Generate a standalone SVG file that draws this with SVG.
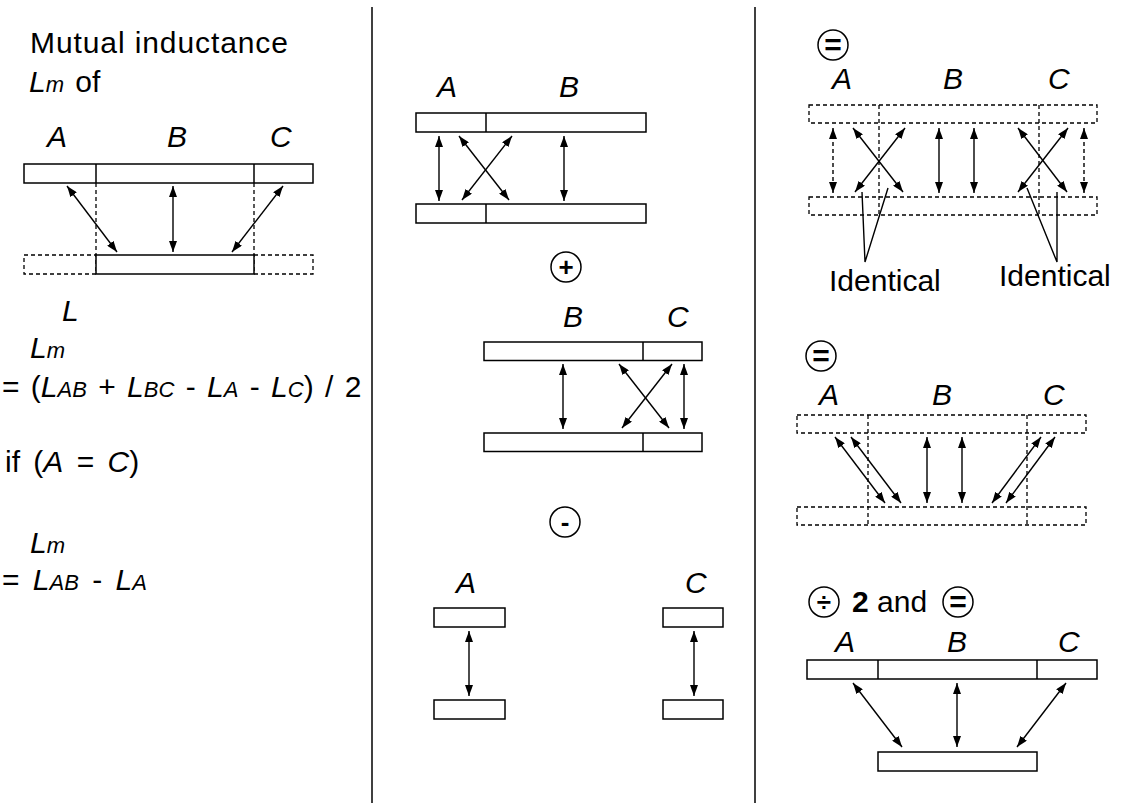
<svg xmlns="http://www.w3.org/2000/svg" width="1125" height="803" viewBox="0 0 1125 803">
<style>
  text { font-family: "Liberation Sans", Arial, sans-serif; font-size: 30px; fill: #000; }
  .it { font-style: italic; }
  .sub { font-size: 22px; font-style: italic; }
  .bar { fill: #fff; stroke: #000; stroke-width: 1.5; }
  .dbar { fill: none; stroke: #000; stroke-width: 1.3; stroke-dasharray: 4 3; }
  .div { stroke: #000; stroke-width: 1.5; }
  .ddiv { stroke: #000; stroke-width: 1.3; stroke-dasharray: 4 3; }
  .arr { stroke: #000; stroke-width: 1.4; fill: none; marker-start: url(#ah); marker-end: url(#ah); }
  .darr { stroke: #000; stroke-width: 1.4; fill: none; stroke-dasharray: 4 3; marker-start: url(#ah); marker-end: url(#ah); }
  .lead { stroke: #000; stroke-width: 1.4; fill: none; }
  .sep { stroke: #000; stroke-width: 1.5; }
  .op { fill: #fff; stroke: #000; stroke-width: 1.5; }
  .opt { font-weight: bold; font-size: 26px; text-anchor: middle; }
  .opeq { font-weight: bold; font-size: 30px; text-anchor: middle; }
</style>
<defs>
  <marker id="ah" markerWidth="11" markerHeight="8" refX="11" refY="4" orient="auto-start-reverse" markerUnits="userSpaceOnUse">
    <path d="M0,0 L11,4 L0,8 z" fill="#000"/>
  </marker>
</defs>

<g id="separators">
  <line class="sep" x1="372" y1="7" x2="372" y2="803"/>
  <line class="sep" x1="755" y1="7" x2="755" y2="803"/>
</g>

<!-- Left panel -->
<g id="left-text">
  <text x="30" y="53" letter-spacing="0.9">Mutual inductance</text>
  <text x="29" y="92" word-spacing="3"><tspan class="it">L</tspan><tspan class="sub">m</tspan> of</text>
  <text x="62" y="321" class="it">L</text>
  <text x="30" y="358"><tspan class="it">L</tspan><tspan class="sub">m</tspan></text>
  <text x="2" y="397" word-spacing="3">= (<tspan class="it">L</tspan><tspan class="sub">AB</tspan> + <tspan class="it">L</tspan><tspan class="sub">BC</tspan> - <tspan class="it">L</tspan><tspan class="sub">A</tspan> - <tspan class="it">L</tspan><tspan class="sub">C</tspan>) / 2</text>
  <text x="5" y="472" word-spacing="5">if (<tspan class="it">A</tspan> = <tspan class="it">C</tspan>)</text>
  <text x="30" y="553"><tspan class="it">L</tspan><tspan class="sub">m</tspan></text>
  <text x="2" y="590" word-spacing="5">= <tspan class="it">L</tspan><tspan class="sub">AB</tspan> - <tspan class="it">L</tspan><tspan class="sub">A</tspan></text>
</g>
<g id="left-wire">
  <text x="47" y="147" class="it">A</text>
  <text x="167" y="147" class="it">B</text>
  <text x="270" y="147" class="it">C</text>
  <rect class="bar" x="24" y="164" width="289" height="19"/>
  <line class="div" x1="96" y1="164" x2="96" y2="183"/>
  <line class="div" x1="254" y1="164" x2="254" y2="183"/>
  <rect class="dbar" x="24" y="255" width="72" height="19"/>
  <rect class="dbar" x="254" y="255" width="59" height="19"/>
  <rect class="bar" x="96" y="255" width="158" height="19"/>
  <line class="ddiv" x1="96" y1="183" x2="96" y2="255"/>
  <line class="ddiv" x1="254" y1="183" x2="254" y2="255"/>
</g>

<!-- Middle panel -->
<g id="mid-ab">
  <text x="437" y="97" class="it">A</text>
  <text x="559" y="97" class="it">B</text>
  <rect class="bar" x="416" y="113" width="230" height="19"/>
  <line class="div" x1="486" y1="113" x2="486" y2="132"/>
  <rect class="bar" x="416" y="204" width="230" height="19"/>
  <line class="div" x1="486" y1="204" x2="486" y2="223"/>
</g>
<g id="op-plus">
  <circle class="op" cx="566" cy="267" r="15"/>
  <text class="opt" x="566" y="276">+</text>
</g>
<g id="mid-bc">
  <text x="563" y="327" class="it">B</text>
  <text x="667" y="327" class="it">C</text>
  <rect class="bar" x="484" y="342" width="218" height="18.5"/>
  <line class="div" x1="643" y1="342" x2="643" y2="360.5"/>
  <rect class="bar" x="484" y="433" width="218" height="18.5"/>
  <line class="div" x1="643" y1="433" x2="643" y2="451.5"/>
</g>
<g id="op-minus">
  <circle class="op" cx="565" cy="522" r="15"/>
  <text class="opt" x="565" y="531">-</text>
</g>
<g id="mid-a">
  <text x="456" y="593" class="it">A</text>
  <rect class="bar" x="434" y="608" width="71" height="19"/>
  <rect class="bar" x="434" y="700" width="71" height="19"/>
</g>
<g id="mid-c">
  <text x="685" y="593" class="it">C</text>
  <rect class="bar" x="663" y="608" width="60" height="19"/>
  <rect class="bar" x="663" y="700" width="60" height="19"/>
</g>

<!-- Right panel -->
<g id="op-eq1">
  <circle class="op" cx="833" cy="45" r="15"/>
  <text class="opeq" x="833" y="55">=</text>
</g>
<g id="right-1">
  <text x="832" y="89" class="it">A</text>
  <text x="943" y="89" class="it">B</text>
  <text x="1048" y="89" class="it">C</text>
  <rect class="dbar" x="809" y="105" width="288" height="18"/>
  <rect class="dbar" x="809" y="197" width="288" height="18"/>
  <line class="ddiv" x1="879" y1="105" x2="879" y2="215"/>
  <line class="ddiv" x1="1039" y1="105" x2="1039" y2="215"/>
  <text x="829" y="291">Identical</text>
  <text x="999" y="286">Identical</text>
</g>
<g id="op-eq2">
  <circle class="op" cx="821" cy="356" r="15"/>
  <text class="opeq" x="821" y="366">=</text>
</g>
<g id="right-2">
  <text x="819" y="405" class="it">A</text>
  <text x="932" y="405" class="it">B</text>
  <text x="1043" y="405" class="it">C</text>
  <rect class="dbar" x="797" y="415" width="289" height="18"/>
  <rect class="dbar" x="797" y="507" width="289" height="18"/>
  <line class="ddiv" x1="868" y1="415" x2="868" y2="525"/>
  <line class="ddiv" x1="1027" y1="415" x2="1027" y2="525"/>
</g>
<g id="op-div">
  <circle class="op" cx="824" cy="602" r="15"/>
  <text class="opt" x="824" y="611">÷</text>
</g>
<g id="op-eq3">
  <circle class="op" cx="958" cy="602" r="15"/>
  <text class="opeq" x="958" y="612">=</text>
</g>
<g id="right-3">
  <text x="852" y="612"><tspan font-weight="bold">2</tspan> and</text>
  <text x="835" y="652" class="it">A</text>
  <text x="947" y="652" class="it">B</text>
  <text x="1058" y="652" class="it">C</text>
  <rect class="bar" x="807" y="660" width="290" height="19"/>
  <line class="div" x1="878" y1="660" x2="878" y2="679"/>
  <line class="div" x1="1037" y1="660" x2="1037" y2="679"/>
  <rect class="bar" x="878" y="752" width="159" height="19"/>
</g>

<g id="connectors">
  <!-- left -->
  <line class="arr" x1="67" y1="186" x2="117" y2="252"/>
  <line class="arr" x1="173" y1="186" x2="173" y2="252"/>
  <line class="arr" x1="283" y1="186" x2="232" y2="252"/>
  <!-- mid AB -->
  <line class="arr" x1="439" y1="136" x2="439" y2="201"/>
  <line class="arr" x1="459" y1="136" x2="509" y2="200"/>
  <line class="arr" x1="512" y1="136" x2="462" y2="200"/>
  <line class="arr" x1="564" y1="136" x2="564" y2="201"/>
  <!-- mid BC -->
  <line class="arr" x1="563" y1="364" x2="563" y2="429"/>
  <line class="arr" x1="619" y1="364" x2="669" y2="428"/>
  <line class="arr" x1="672" y1="364" x2="622" y2="428"/>
  <line class="arr" x1="684" y1="364" x2="684" y2="429"/>
  <!-- mid A, C -->
  <line class="arr" x1="469" y1="631" x2="469" y2="696"/>
  <line class="arr" x1="694" y1="631" x2="694" y2="696"/>
  <!-- right 1 -->
  <line class="darr" x1="833" y1="128" x2="833" y2="193"/>
  <line class="arr" x1="853" y1="128" x2="903" y2="192"/>
  <line class="arr" x1="905" y1="128" x2="855" y2="192"/>
  <line class="arr" x1="939" y1="128" x2="939" y2="193"/>
  <line class="arr" x1="974" y1="128" x2="974" y2="193"/>
  <line class="arr" x1="1018" y1="128" x2="1067" y2="192"/>
  <line class="arr" x1="1068" y1="128" x2="1018" y2="192"/>
  <line class="darr" x1="1084" y1="128" x2="1084" y2="193"/>
  <polyline class="lead" points="862,192 865,262 888,188"/>
  <polyline class="lead" points="1027,188 1057,262 1057,192"/>
  <!-- right 2 -->
  <line class="arr" x1="835" y1="437" x2="885" y2="503"/>
  <line class="arr" x1="851" y1="437" x2="901" y2="503"/>
  <line class="arr" x1="927" y1="437" x2="927" y2="503"/>
  <line class="arr" x1="962" y1="437" x2="962" y2="503"/>
  <line class="arr" x1="1041" y1="437" x2="992" y2="503"/>
  <line class="arr" x1="1055" y1="437" x2="1006" y2="503"/>
  <!-- right 3 -->
  <line class="arr" x1="853" y1="683" x2="902" y2="747"/>
  <line class="arr" x1="957" y1="683" x2="957" y2="747"/>
  <line class="arr" x1="1066" y1="683" x2="1017" y2="747"/>
</g>
</svg>
